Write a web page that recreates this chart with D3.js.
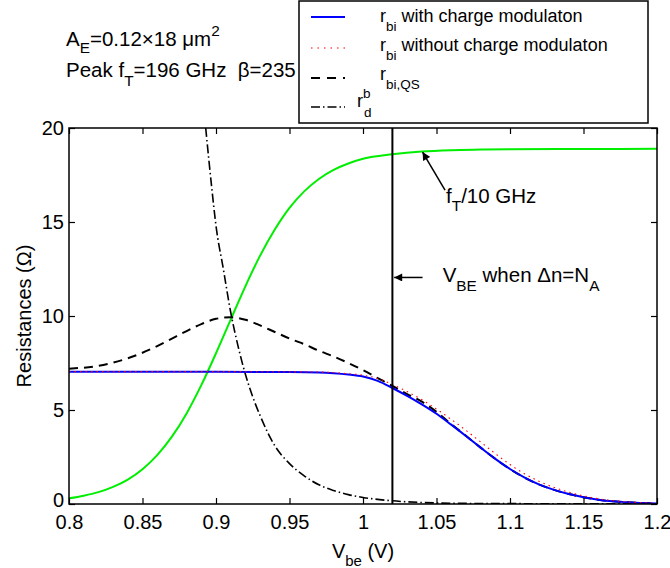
<!DOCTYPE html>
<html><head><meta charset="utf-8">
<script src="https://cdn.jsdelivr.net/npm/d3@7"></script>
<style>
body{margin:0;background:#fff;}
svg text{font-family:"Liberation Sans",Arial,Helvetica,sans-serif;fill:#000;white-space:pre;}
</style></head><body>
<svg id="chart" width="670" height="568"></svg>
<script>
// ---------- data ----------
const xDomain = [0.8, 1.2];
const yDomain = [0, 20];
const xTicks = [0.8, 0.85, 0.9, 0.95, 1.0, 1.05, 1.1, 1.15, 1.2];
const xTickLabels = ["0.8", "0.85", "0.9", "0.95", "1", "1.05", "1.1", "1.15", "1.2"];
const yTicks = [0, 5, 10, 15, 20];
const yTickLabels = ["0", "5", "10", "15", "20"];
const vbeMarker = 1.02;

const xRbi = [0.80, 0.85, 0.90, 0.95, 0.97, 0.98, 0.99, 1.00, 1.01, 1.02, 1.03, 1.04, 1.05, 1.06, 1.07, 1.08, 1.09, 1.10, 1.11, 1.12, 1.13, 1.14, 1.15, 1.16, 1.17, 1.18, 1.19, 1.20];
const rbiWith = [7.03, 7.03, 7.03, 7.02, 7.0, 6.96, 6.89, 6.78, 6.55, 6.17, 5.75, 5.3, 4.8, 4.22, 3.62, 3.0, 2.4, 1.86, 1.4, 1.03, 0.75, 0.53, 0.36, 0.23, 0.14, 0.09, 0.05, 0.03];
const rbiWithout = [7.04, 7.04, 7.04, 7.03, 7.02, 6.99, 6.93, 6.85, 6.68, 6.36, 5.98, 5.55, 5.05, 4.5, 3.92, 3.3, 2.68, 2.1, 1.6, 1.2, 0.88, 0.63, 0.43, 0.28, 0.18, 0.11, 0.07, 0.04];

const xQS = [0.80, 0.82, 0.84, 0.86, 0.87, 0.88, 0.89, 0.90, 0.91, 0.92, 0.93, 0.94, 0.95, 0.96, 0.97, 0.98, 0.99, 1.00, 1.01, 1.02, 1.03, 1.04, 1.05, 1.06, 1.07, 1.08, 1.09, 1.10, 1.11, 1.12, 1.13, 1.14, 1.15, 1.16, 1.17, 1.18, 1.19, 1.20];
const rbiQS = [7.2, 7.35, 7.75, 8.4, 8.8, 9.2, 9.57, 9.85, 9.93, 9.8, 9.5, 9.15, 8.8, 8.5, 8.15, 7.85, 7.5, 7.12, 6.7, 6.28, 5.85, 5.45, 4.9, 4.25, 3.63, 3.0, 2.4, 1.86, 1.4, 1.03, 0.75, 0.53, 0.36, 0.23, 0.14, 0.09, 0.05, 0.03];

const xRd = [0.885, 0.89, 0.893, 0.897, 0.90, 0.905, 0.91, 0.915, 0.92, 0.925, 0.93, 0.94, 0.95, 0.96, 0.97, 0.98, 0.99, 1.00, 1.02, 1.04, 1.06, 1.10, 1.15, 1.20];
const rdb = [27, 22.5, 20, 16.9, 14.8, 12.5, 10.2, 8.4, 6.9, 5.7, 4.7, 3.1, 2.15, 1.5, 1.02, 0.72, 0.5, 0.35, 0.17, 0.08, 0.04, 0.02, 0.01, 0.0];

const xFt = [0.80, 0.81, 0.82, 0.83, 0.84, 0.85, 0.86, 0.87, 0.88, 0.89, 0.90, 0.91, 0.92, 0.93, 0.94, 0.95, 0.96, 0.97, 0.98, 0.99, 1.00, 1.02, 1.04, 1.06, 1.08, 1.10, 1.15, 1.20];
const ftOver10 = [0.3, 0.44, 0.63, 0.91, 1.30, 1.85, 2.6, 3.58, 4.82, 6.32, 8.02, 9.81, 11.58, 13.21, 14.6, 15.75, 16.63, 17.29, 17.77, 18.11, 18.36, 18.6, 18.75, 18.82, 18.85, 18.87, 18.88, 18.89];

// ---------- layout ----------
const svg = d3.select("#chart");
const L = 69, R = 657, T = 128, B = 504;
const x = d3.scaleLinear().domain(xDomain).range([L, R]);
const y = d3.scaleLinear().domain(yDomain).range([B, T]);
const FS = 20;    // axis text
const LFS = 18;   // legend text
const AFS = 20.5; // annotations

svg.append("defs").append("clipPath").attr("id", "plotclip")
  .append("rect").attr("x", L).attr("y", T).attr("width", R - L).attr("height", B - T);

const mk = (xs, ys) => d3.line().curve(d3.curveMonotoneX).x((d, i) => x(xs[i])).y(d => y(d))(ys);
const plot = svg.append("g").attr("clip-path", "url(#plotclip)");

plot.append("path").attr("d", mk(xFt, ftOver10))
  .attr("fill", "none").attr("stroke", "#00ee00").attr("stroke-width", 2);
plot.append("path").attr("d", mk(xRd, rdb))
  .attr("fill", "none").attr("stroke", "#000").attr("stroke-width", 1.6).attr("stroke-dasharray", "9,3,1.5,3");
plot.append("path").attr("d", mk(xQS, rbiQS))
  .attr("fill", "none").attr("stroke", "#000").attr("stroke-width", 2).attr("stroke-dasharray", "9,6");
plot.append("path").attr("d", mk(xRbi, rbiWith))
  .attr("fill", "none").attr("stroke", "#0000ff").attr("stroke-width", 2);
plot.append("path").attr("d", mk(xRbi, rbiWithout))
  .attr("fill", "none").attr("stroke", "#ff0000").attr("stroke-width", 1.1).attr("stroke-dasharray", "1.5,4");

svg.append("line").attr("x1", x(vbeMarker)).attr("x2", x(vbeMarker)).attr("y1", y(0)).attr("y2", y(20))
  .attr("stroke", "#000").attr("stroke-width", 2);

// ---------- axes ----------
const fmtX = d => xTickLabels[xTicks.indexOf(d)];
const fmtY = d => yTickLabels[yTicks.indexOf(d)];
const styleAxis = g => {
  g.select(".domain").remove();
  g.selectAll(".tick line").attr("stroke", "#000").attr("stroke-width", 1.2);
  g.selectAll("text").attr("font-size", FS).attr("font-family", "Liberation Sans, Arial, sans-serif").attr("fill", "#000");
};
svg.append("g").attr("transform", `translate(0,${B})`)
  .call(d3.axisBottom(x).tickValues(xTicks).tickFormat(fmtX).tickSize(-6).tickPadding(11)).call(styleAxis);
svg.append("g").attr("transform", `translate(0,${T})`)
  .call(d3.axisTop(x).tickValues(xTicks).tickFormat("").tickSize(-6)).call(styleAxis);
const yAx = svg.append("g").attr("transform", `translate(${L},0)`)
  .call(d3.axisLeft(y).tickValues(yTicks).tickFormat(fmtY).tickSize(-6).tickPadding(5)).call(styleAxis);
yAx.selectAll(".tick text").filter(d => d === 0).attr("dy", "0.12em");
svg.append("g").attr("transform", `translate(${R},0)`)
  .call(d3.axisRight(y).tickValues(yTicks).tickFormat("").tickSize(-6)).call(styleAxis);
svg.append("rect").attr("x", L).attr("y", T).attr("width", R - L).attr("height", B - T)
  .attr("fill", "none").attr("stroke", "#000").attr("stroke-width", 1.5);

function rich(parent, px, py, parts, size) {
  const t = parent.append("text").attr("x", px).attr("y", py).attr("font-size", size);
  let cur = 0;
  parts.forEach(p => {
    const shift = p.shift || 0;
    const ts = t.append("tspan").text(p.t);
    if (p.small) ts.attr("font-size", size * 0.75);
    if (p.x !== undefined) ts.attr("x", p.x);
    ts.attr("dy", shift - cur);
    cur = shift;
  });
  return t;
}

// axis labels
rich(svg, x(1.0), 558, [{t: "V"}, {t: "be", small: true, shift: 8}, {t: " (V)", shift: 0}], FS).attr("text-anchor", "middle");
svg.append("text").attr("transform", `translate(31,${(T + B) / 2}) rotate(-90)`)
  .attr("text-anchor", "middle").attr("font-size", FS).text("Resistances (Ω)");

// top-left annotation
rich(svg, 66, 46, [{t: "A"}, {t: "E", small: true, shift: 7}, {t: "=0.12×18 μm", shift: 0}, {t: "2", small: true, shift: -10}], AFS);
rich(svg, 66, 77, [{t: "Peak f"}, {t: "T", small: true, shift: 9}, {t: "=196 GHz  β=235", shift: 0}], AFS);

// legend
const lg = svg.append("g");
lg.append("rect").attr("x", 299).attr("y", 1).attr("width", 349).attr("height", 122)
  .attr("fill", "#fff").attr("stroke", "#000").attr("stroke-width", 1.5);
const legendRows = [
  {y: 17, color: "#0000ff", w: 2, dash: null},
  {y: 48, color: "#ff0000", w: 1.1, dash: "1.5,5"},
  {y: 78, color: "#000", w: 2, dash: "9,7"},
  {y: 107, color: "#000", w: 1.6, dash: "9,3,1.5,3"}
];
legendRows.forEach(r => {
  lg.append("line").attr("x1", 311).attr("x2", 345).attr("y1", r.y).attr("y2", r.y)
    .attr("stroke", r.color).attr("stroke-width", r.w).attr("stroke-dasharray", r.dash);
});
rich(lg, 380, 22, [{t: "r"}, {t: "bi", small: true, shift: 9}, {t: " with charge modulaton", shift: 0}], LFS);
rich(lg, 380, 51, [{t: "r"}, {t: "bi", small: true, shift: 9}, {t: " without charge modulaton", shift: 0}], LFS);
rich(lg, 380, 80, [{t: "r"}, {t: "bi,QS", small: true, shift: 9}], LFS);
rich(lg, 357, 107, [{t: "r"}, {t: "b", small: true, shift: -9}, {t: "d", small: true, shift: 10, x: 364}], LFS);

// arrows
const defs = svg.select("defs");
defs.append("marker").attr("id", "ah").attr("viewBox", "0 0 10 10").attr("refX", 10).attr("refY", 5)
  .attr("markerWidth", 10).attr("markerHeight", 8).attr("markerUnits", "userSpaceOnUse").attr("orient", "auto")
  .append("path").attr("d", "M0,0 L10,5 L0,10 Z").attr("fill", "#000");

const ftArrow = {from: [1.0558, 16.7], to: [1.0405, 18.72]};
svg.append("line").attr("x1", x(ftArrow.from[0])).attr("y1", y(ftArrow.from[1]))
  .attr("x2", x(ftArrow.to[0])).attr("y2", y(ftArrow.to[1]))
  .attr("stroke", "#000").attr("stroke-width", 1.5).attr("marker-end", "url(#ah)");
rich(svg, x(1.0565), y(16.0), [{t: "f"}, {t: "T", small: true, shift: 8}, {t: "/10 GHz", shift: 0}], AFS);

const vbArrow = {from: [1.0405, 12.05], to: [1.0212, 12.05]};
svg.append("line").attr("x1", x(vbArrow.from[0])).attr("y1", y(vbArrow.from[1]))
  .attr("x2", x(vbArrow.to[0])).attr("y2", y(vbArrow.to[1]))
  .attr("stroke", "#000").attr("stroke-width", 1.5).attr("marker-end", "url(#ah)");
rich(svg, x(1.0542), y(11.8), [{t: "V"}, {t: "BE", small: true, shift: 9}, {t: " when Δn=N", shift: 0}, {t: "A", small: true, shift: 9}], AFS);
</script>
</body></html>
